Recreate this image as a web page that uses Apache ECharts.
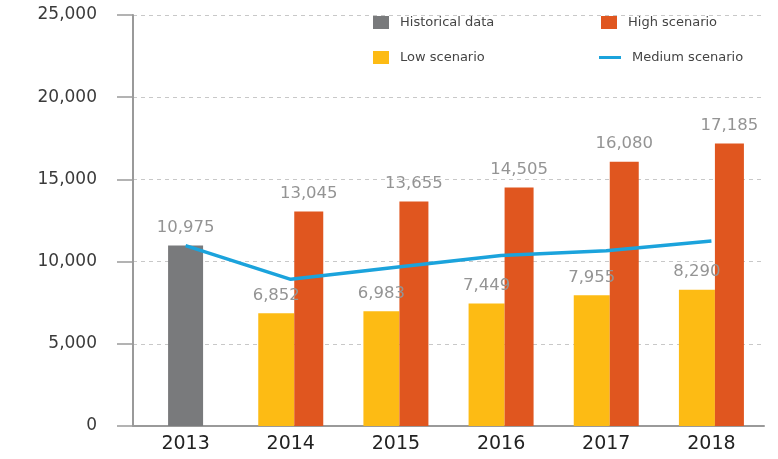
<!DOCTYPE html>
<html>
<head>
<meta charset="utf-8">
<script src="https://cdn.jsdelivr.net/npm/echarts@6/dist/echarts.min.js"></script>
<style>
html,body{margin:0;padding:0;background:#fff;}
#chart{width:778px;height:459px;}
</style>
</head>
<body>
<div id="chart"></div>
<script>
var years = ['2013', '2014', '2015', '2016', '2017', '2018'];
var historical = [10975, null, null, null, null, null];
var lowScenario = [null, 6852, 6983, 7449, 7955, 8290];
var highScenario = [null, 13045, 13655, 14505, 16080, 17185];
var mediumScenario = [10975, 8920, 9650, 10370, 10660, 11250];
var yTicks = [0, 5000, 10000, 15000, 20000, 25000];

var FONT = 'DejaVu Sans';
function fmt(v) { return v.toLocaleString('en-US'); }

var chart = echarts.init(document.getElementById('chart'), null, {renderer: 'canvas'});

var labelCfg = {
  show: true,
  position: 'top',
  distance: 9,
  color: '#949494',
  fontFamily: FONT,
  fontSize: 16.5,
  formatter: function (p) { return fmt(p.value); }
};

function legendAt(name, left, top, w, h) {
  return {
    data: [{name: name, icon: 'rect'}],
    left: left, top: top,
    itemWidth: w, itemHeight: h,
    selectedMode: false,
    textStyle: {color: '#444', fontFamily: FONT, fontSize: 13, padding: [0, 0, 0, 6]}
  };
}

chart.setOption({
  animation: false,
  backgroundColor: '#fff',
  grid: {left: 133, right: 14, top: 15, bottom: 33, containLabel: false},
  legend: [
    legendAt('Historical data', 368, 11, 16, 13),
    legendAt('High scenario', 596, 11, 16, 13),
    legendAt('Low scenario', 368, 46, 16, 13),
    legendAt('Medium scenario', 594, 46, 22, 3)
  ],
  xAxis: [
    {
      type: 'category',
      data: years,
      boundaryGap: true,
      axisLine: {show: true, lineStyle: {color: '#9a9a9a', width: 2}},
      axisTick: {show: false},
      axisLabel: {color: '#222', fontFamily: FONT, fontSize: 19, margin: 9}
    },
    {
      type: 'category',
      data: years,
      show: false
    }
  ],
  yAxis: {
    type: 'value',
    min: yTicks[0],
    max: yTicks[yTicks.length - 1],
    interval: 5000,
    axisLine: {show: true, lineStyle: {color: '#9a9a9a', width: 2}},
    axisTick: {show: true, inside: false, length: 16, lineStyle: {color: '#9a9a9a', width: 1.5}},
    axisLabel: {
      color: '#3a3a3a', fontFamily: FONT, fontSize: 17, margin: 36,
      formatter: function (v) { return fmt(v); }
    },
    splitLine: {show: true, lineStyle: {color: '#c8c8c8', type: [4, 4], width: 1}}
  },
  series: [
    {
      name: 'Historical data',
      type: 'bar',
      xAxisIndex: 1,
      data: historical,
      barWidth: 35,
      itemStyle: {color: '#797a7c'},
      label: labelCfg
    },
    {
      name: 'Low scenario',
      type: 'bar',
      xAxisIndex: 0,
      data: lowScenario,
      barWidth: 36,
      barGap: '0%',
      itemStyle: {color: '#fdbb14'},
      label: labelCfg
    },
    {
      name: 'High scenario',
      type: 'bar',
      xAxisIndex: 0,
      data: highScenario,
      barWidth: 29,
      barGap: '0%',
      itemStyle: {color: '#e0561f'},
      label: labelCfg
    },
    {
      name: 'Medium scenario',
      type: 'line',
      xAxisIndex: 0,
      data: mediumScenario,
      showSymbol: false,
      symbol: 'none',
      lineStyle: {color: '#1ba3dc', width: 3.5},
      itemStyle: {color: '#1ba3dc'},
      z: 5
    }
  ]
});
</script>
</body>
</html>
